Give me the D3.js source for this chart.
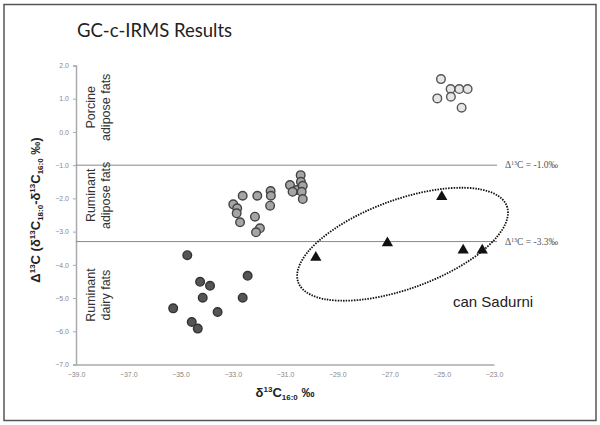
<!DOCTYPE html>
<html>
<head>
<meta charset="utf-8">
<script src="https://cdn.jsdelivr.net/npm/d3@7"></script>
<style>
  body { margin: 0; background: #fff; }
  svg { display: block; }
</style>
</head>
<body>
<svg width="600" height="425"></svg>
<script>
// values: [δ13C16:0, Δ13C]
const porcine = [
  [-25.03, 1.59], [-24.66, 1.29], [-24.33, 1.29], [-24.01, 1.29],
  [-25.17, 1.01], [-24.65, 1.06], [-24.24, 0.73]
];
const ruminantAdipose = [
  [-30.40, -1.30], [-30.39, -1.50], [-30.81, -1.60], [-30.55, -1.75],
  [-30.32, -1.62], [-30.71, -1.80], [-30.36, -1.80], [-30.32, -2.02],
  [-32.62, -1.92], [-32.06, -1.92], [-31.55, -1.78], [-31.54, -1.92],
  [-31.57, -2.22], [-32.98, -2.18], [-32.83, -2.30], [-32.85, -2.45],
  [-32.72, -2.72], [-32.15, -2.55], [-31.96, -2.90], [-32.11, -3.02]
];
const ruminantDairy = [
  [-34.74, -3.71], [-32.43, -4.33], [-34.25, -4.51], [-33.87, -4.63],
  [-34.15, -4.99], [-32.62, -4.99], [-35.28, -5.31], [-33.58, -5.42],
  [-34.57, -5.72], [-34.34, -5.92]
];
const canSadurni = [
  [-25.00, -1.95], [-27.08, -3.34], [-24.18, -3.56], [-23.45, -3.56], [-29.82, -3.78]
];
const xTicks = [-39, -37, -35, -33, -31, -29, -27, -25, -23];
const yTicks = [2, 1, 0, -1, -2, -3, -4, -5, -6, -7];
const thresholds = [-1.0, -3.3];
const thresholdLabels = ["-1.0‰", "-3.3‰"];
const zones = [
  { lines: ["Porcine", "adipose fats"], top: 2, bottom: -1 },
  { lines: ["Ruminant", "adipose fats"], top: -1, bottom: -3.3 },
  { lines: ["Ruminant", "dairy fats"], top: -3.3, bottom: -7 }
];

const svg = d3.select("svg");
const x = d3.scaleLinear().domain([-39, -23]).range([76, 494]);
const y = d3.scaleLinear().domain([-7, 2]).range([364.5, 65.5]);

// outer frame
svg.append("rect")
  .attr("x", 4).attr("y", 4.5).attr("width", 592).attr("height", 416)
  .attr("fill", "none").attr("stroke", "#555").attr("stroke-width", 1.5);

svg.append("text")
  .attr("x", 77).attr("y", 37)
  .attr("font-family", "Lato, 'Open Sans', sans-serif")
  .attr("font-size", 18.5).attr("fill", "#222")
  .text("GC-c-IRMS Results");

// axes
const fmt = d3.format(".1f");
const xAxis = svg.append("g")
  .attr("transform", `translate(0,${y(-7)})`)
  .call(d3.axisBottom(x).tickValues(xTicks).tickFormat(fmt).tickSize(0).tickPadding(8));
const yAxis = svg.append("g")
  .attr("transform", `translate(${x(-39)},0)`)
  .call(d3.axisLeft(y).tickValues(yTicks).tickFormat(fmt).tickSize(3).tickPadding(4));
[xAxis, yAxis].forEach(g => {
  g.select(".domain").attr("stroke", "#aaa").attr("stroke-width", 1.5);
  g.selectAll(".tick line").attr("stroke", "#aaa");
  g.selectAll("text")
    .attr("font-family", "'Liberation Sans', Arial, sans-serif")
    .attr("font-size", 7).attr("fill", "#888");
});

// threshold lines
thresholds.forEach((t, i) => {
  svg.append("line")
    .attr("x1", x(-39)).attr("x2", x(-23) + 3)
    .attr("y1", y(t)).attr("y2", y(t))
    .attr("stroke", "#888").attr("stroke-width", 1);
  const lab = svg.append("text")
    .attr("x", x(-23) + 11).attr("y", y(t) + 3)
    .attr("font-family", "'Liberation Serif', 'DejaVu Serif', serif")
    .attr("font-size", 9.5).attr("fill", "#555");
  lab.append("tspan").text("Δ");
  lab.append("tspan").attr("font-size", 6).attr("dy", -3).text("13");
  lab.append("tspan").attr("dy", 3).text("C = " + thresholdLabels[i]);
});

// zone labels
zones.forEach(z => {
  const cy = (y(z.top) + y(z.bottom)) / 2 - 8;
  const t = svg.append("text")
    .attr("transform", `translate(${x(-39) + 19},${cy}) rotate(-90)`)
    .attr("text-anchor", "middle")
    .attr("font-family", "'Liberation Sans', Arial, sans-serif")
    .attr("font-size", 12.5).attr("fill", "#333");
  z.lines.forEach((l, i) => {
    t.append("tspan").attr("x", 0).attr("dy", i === 0 ? 0 : 15).text(l);
  });
});

// axis titles
const yt = svg.append("text")
  .attr("transform", `translate(40,210) rotate(-90)`)
  .attr("text-anchor", "middle")
  .attr("font-family", "'Liberation Sans', Arial, sans-serif")
  .attr("font-weight", "bold").attr("font-size", 13).attr("fill", "#222");
yt.append("tspan").text("Δ");
yt.append("tspan").attr("font-size", 8).attr("dy", -5).text("13");
yt.append("tspan").attr("dy", 5).text("C (δ");
yt.append("tspan").attr("font-size", 8).attr("dy", -5).text("13");
yt.append("tspan").attr("dy", 5).text("C");
yt.append("tspan").attr("font-size", 8).attr("dy", 3).text("18:0");
yt.append("tspan").attr("dy", -3).text("-δ");
yt.append("tspan").attr("font-size", 8).attr("dy", -5).text("13");
yt.append("tspan").attr("dy", 5).text("C");
yt.append("tspan").attr("font-size", 8).attr("dy", 3).text("16:0");
yt.append("tspan").attr("dy", -3).text(" ‰)");

const xt = svg.append("text")
  .attr("x", (x(-39) + x(-23)) / 2).attr("y", 397)
  .attr("text-anchor", "middle")
  .attr("font-family", "'Liberation Sans', Arial, sans-serif")
  .attr("font-weight", "bold").attr("font-size", 13).attr("fill", "#222");
xt.append("tspan").text("δ");
xt.append("tspan").attr("font-size", 8).attr("dy", -5).text("13");
xt.append("tspan").attr("dy", 5).text("C");
xt.append("tspan").attr("font-size", 8).attr("dy", 3).text("16:0");
xt.append("tspan").attr("dy", -3).text(" ‰");

// ellipse round the can Sadurni group
const ell = { cx: -26.5, cy: -3.38, rx: 4.25, ry: 1.34, angle: -20 };
svg.append("ellipse")
  .attr("transform", `translate(${x(ell.cx)},${y(ell.cy)}) rotate(${ell.angle})`)
  .attr("rx", x(ell.cx + ell.rx) - x(ell.cx))
  .attr("ry", y(ell.cy - ell.ry) - y(ell.cy))
  .attr("fill", "none").attr("stroke", "#111")
  .attr("stroke-width", 1.8).attr("stroke-dasharray", "1.5,1.2");

svg.append("text")
  .attr("x", 453).attr("y", 307)
  .attr("font-family", "'Liberation Sans', Arial, sans-serif")
  .attr("font-size", 15).attr("fill", "#222")
  .text("can Sadurni");

// points
function drawCircles(data, fill, stroke) {
  svg.append("g").selectAll("circle")
    .data(data).enter().append("circle")
    .attr("cx", d => x(d[0])).attr("cy", d => y(d[1]))
    .attr("r", 4.3)
    .attr("fill", fill).attr("stroke", stroke).attr("stroke-width", 1.4);
}
drawCircles(porcine, "#e6e6e6", "#555");
drawCircles(ruminantAdipose, "#a5a5a5", "#444");
drawCircles(ruminantDairy, "#555", "#333");

svg.append("g").selectAll("path")
  .data(canSadurni).enter().append("path")
  .attr("transform", d => `translate(${x(d[0])},${y(d[1])})`)
  .attr("d", d3.symbol(d3.symbolTriangle, 55))
  .attr("fill", "#111");
</script>
</body>
</html>
